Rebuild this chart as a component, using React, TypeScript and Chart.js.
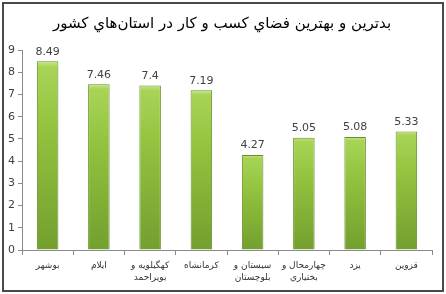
import React, { useEffect, useRef } from "react";
import { Chart, registerables } from "chart.js";

Chart.register(...registerables);

const titleText = "بدترين و بهترين فضاي كسب و كار در استان‌هاي كشور";
const categories: (string | string[])[] = [
  "بوشهر",
  "ايلام",
  ["کهگيلويه و", "بويراحمد"],
  "کرمانشاه",
  ["سيستان و", "بلوچستان"],
  ["چهارمحال و", "بختياري"],
  "يزد",
  "قزوين",
];
const values = [8.49, 7.46, 7.4, 7.19, 4.27, 5.05, 5.08, 5.33];
const valueLabels = ["8.49", "7.46", "7.4", "7.19", "4.27", "5.05", "5.08", "5.33"];
const yMin = 0;
const yMax = 9;

const FONT = "'DejaVu Sans', sans-serif";

const barFill = (c: any) => {
  const chart = c.chart;
  const ys = chart.scales && chart.scales.y;
  if (!chart.chartArea || !ys || c.raw == null) return "#8fbe3c";
  const top = ys.getPixelForValue(c.raw);
  const bottom = ys.getPixelForValue(0);
  const g = chart.ctx.createLinearGradient(0, top, 0, bottom);
  g.addColorStop(0, "#c8e684");
  g.addColorStop(0.03, "#a8d456");
  g.addColorStop(0.35, "#93c33f");
  g.addColorStop(1, "#739f2e");
  return g;
};

const decoPlugin = {
  id: "deco",
  afterDatasetsDraw(chart: any) {
    const ctx = chart.ctx;
    const meta = chart.getDatasetMeta(0);
    ctx.save();
    ctx.font = `11px ${FONT}`;
    ctx.fillStyle = "#404040";
    ctx.textAlign = "center";
    ctx.textBaseline = "bottom";
    meta.data.forEach((el: any, i: number) => {
      ctx.fillText(valueLabels[i], el.x, el.y - 4);
    });
    ctx.restore();
  },
  afterDraw(chart: any) {
    const ctx = chart.ctx;
    ctx.save();
    ctx.font = `15px ${FONT}`;
    ctx.fillStyle = "#000";
    ctx.textAlign = "center";
    ctx.textBaseline = "middle";
    ctx.direction = "rtl";
    ctx.fillText(titleText, 222, 24);
    ctx.strokeStyle = "#4a4a4a";
    ctx.lineWidth = 2;
    ctx.strokeRect(3, 3, 440, 288);
    ctx.restore();
  },
};

export default function App() {
  const ref = useRef<HTMLCanvasElement>(null);
  useEffect(() => {
    document.body.style.margin = "0";
    const chart = new Chart(ref.current!, {
      type: "bar",
      data: {
        labels: categories,
        datasets: [
          {
            data: values,
            backgroundColor: barFill,
            borderColor: "#66902a",
            borderWidth: 1,
            categoryPercentage: 1,
            barPercentage: 0.42,
          },
        ],
      },
      options: {
        animation: false,
        responsive: false,
        devicePixelRatio: 1,
        layout: { padding: { top: 50, left: 0, right: 14, bottom: 0 } },
        plugins: {
          legend: { display: false },
          tooltip: { enabled: false },
          title: { display: false },
        },
        scales: {
          x: {
            grid: {
              offset: true,
              drawOnChartArea: false,
              drawTicks: true,
              tickLength: 5,
              color: "#8a8a8a",
            },
            border: { display: true, color: "#8a8a8a" },
            ticks: {
              color: "#333",
              font: { family: FONT, size: 9, lineHeight: 1.4 },
              padding: 4,
              maxRotation: 0,
              autoSkip: false,
            },
            afterFit: (s: any) => {
              s.height = 44;
            },
          },
          y: {
            min: yMin,
            max: yMax,
            grid: {
              drawOnChartArea: false,
              drawTicks: true,
              tickLength: 4,
              color: "#8a8a8a",
            },
            border: { display: true, color: "#8a8a8a" },
            ticks: {
              stepSize: 1,
              color: "#404040",
              font: { family: FONT, size: 11 },
              padding: 3,
            },
            afterFit: (s: any) => {
              s.width = 22;
            },
          },
        },
      },
      plugins: [decoPlugin],
    });
    return () => chart.destroy();
  }, []);
  return (
    <div style={{ width: 446, height: 294, background: "#fff" }}>
      <canvas ref={ref} width={446} height={294} style={{ width: 446, height: 294, display: "block" }} />
    </div>
  );
}
